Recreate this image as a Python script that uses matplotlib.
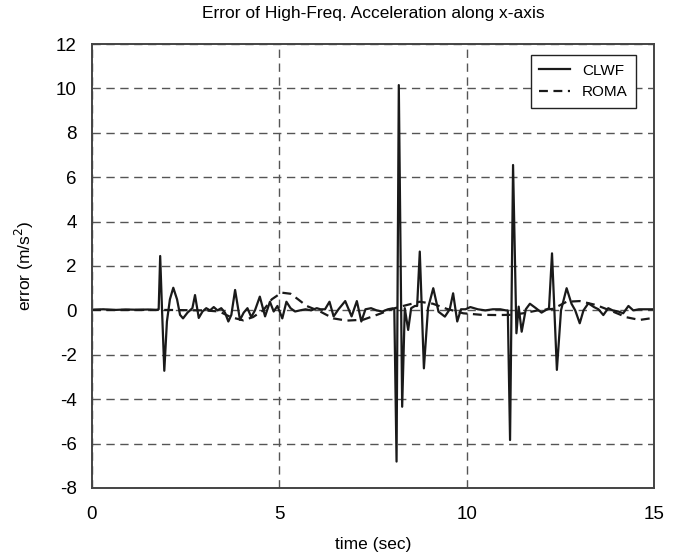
import matplotlib
matplotlib.use("Agg")
from matplotlib import pyplot as plt

# values
clwf_t = [0.0, 0.3, 0.6, 0.9, 1.2, 1.5, 1.72, 1.78, 1.82, 1.87, 1.93, 2.0, 2.08, 2.17,
          2.27, 2.35, 2.43, 2.55, 2.68, 2.75, 2.85, 2.95, 3.05, 3.15, 3.25, 3.35, 3.45,
          3.55, 3.64, 3.72, 3.82, 3.95, 4.05, 4.15, 4.25, 4.35, 4.48, 4.62, 4.75, 4.85,
          4.95, 5.08, 5.19, 5.3, 5.42, 5.55, 5.7, 5.85, 6.0, 6.1, 6.22, 6.34, 6.45, 6.58,
          6.76, 6.93, 7.07, 7.19, 7.3, 7.45, 7.6, 7.75, 7.9, 8.02, 8.07, 8.13, 8.19, 8.28,
          8.35, 8.44, 8.52, 8.62, 8.68, 8.75, 8.86, 8.97, 9.11, 9.25, 9.42, 9.55, 9.64,
          9.75, 9.85, 9.97, 10.1, 10.3, 10.5, 10.7, 10.9, 11.05, 11.1, 11.16, 11.24,
          11.33, 11.39, 11.47, 11.58, 11.69, 11.85, 12.0, 12.15, 12.2, 12.28, 12.41,
          12.52, 12.67, 12.8, 12.9, 13.02, 13.12, 13.25, 13.4, 13.52, 13.65, 13.78, 13.9,
          14.05, 14.18, 14.32, 14.45, 14.6, 14.8, 15.0]
clwf_err = [0.03, 0.05, 0.02, 0.04, 0.03, 0.04, 0.02, 0.05, 2.45, 0.0, -2.72, -0.5, 0.5,
            1.02, 0.5, -0.2, -0.36, -0.1, 0.1, 0.69, -0.34, -0.05, 0.1, 0.0, 0.15, 0.0,
            0.1, -0.1, -0.5, -0.2, 0.92, -0.43, -0.1, 0.1, -0.3, 0.0, 0.62, -0.27, 0.39,
            -0.05, 0.2, -0.36, 0.39, 0.1, -0.05, 0.0, 0.05, 0.0, 0.1, 0.05, 0.05, 0.39,
            -0.27, 0.05, 0.42, -0.27, 0.42, -0.5, 0.05, 0.1, 0.0, -0.05, 0.05, 0.09, 0.05,
            -6.81, 10.15, -4.34, 0.1, -0.88, 0.1, 0.2, 0.2, 2.65, -2.61, 0.1, 1.0, -0.06,
            -0.28, 0.05, 0.77, -0.5, 0.05, 0.05, 0.15, 0.05, 0.0, 0.05, 0.05, 0.0, 0.0,
            -5.84, 6.55, -1.03, 0.17, -0.96, 0.05, 0.3, 0.1, -0.1, 0.05, 0.1, 2.57, -2.68,
            0.0, 1.0, 0.3, 0.0, -0.58, 0.0, 0.32, 0.15, 0.05, -0.21, 0.1, 0.0, -0.05,
            -0.13, 0.2, 0.0, 0.05, 0.05, 0.05]

roma_t = [0.0, 1.0, 2.0, 3.0, 3.4, 3.7, 4.04, 4.3, 4.57, 4.8, 5.06, 5.3, 5.5, 5.73, 6.09,
          6.44, 6.8, 7.24, 7.69, 8.04, 8.4, 8.75, 9.1, 9.47, 9.91, 10.4, 10.8, 11.2,
          11.51, 11.9, 12.31, 12.67, 13.02, 13.46, 13.9, 14.27, 14.62, 14.9]
roma_err = [0.02, 0.02, 0.02, 0.0, -0.05, -0.3, -0.45, -0.3, 0.0, 0.5, 0.8, 0.75, 0.5,
            0.2, -0.05, -0.36, -0.46, -0.42, -0.15, 0.08, 0.24, 0.39, 0.3, 0.07, -0.13,
            -0.2, -0.21, -0.2, -0.13, 0.0, 0.07, 0.39, 0.42, 0.24, -0.05, -0.31, -0.43,
            -0.36]

x_ticks = [0, 5, 10, 15]
y_ticks = [-8, -6, -4, -2, 0, 2, 4, 6, 8, 10, 12]

plt.rcParams["font.family"] = ["Liberation Sans", "DejaVu Sans"]
plt.rcParams["axes.unicode_minus"] = False

fig = plt.figure(figsize=(6.84, 5.6), dpi=100)
ax = fig.add_axes([0.1345, 0.1286, 0.8215, 0.7928])

ax.plot(clwf_t, clwf_err, color="#1a1a1a", linewidth=1.6, linestyle="-", label="CLWF")
ax.plot(roma_t, roma_err, color="#1a1a1a", linewidth=1.6, linestyle=(0, (4, 2.5)), label="ROMA")

ax.set_xlim(0, 15)
ax.set_ylim(-8, 12)
ax.set_xticks(x_ticks)
ax.set_yticks(y_ticks)
ax.tick_params(length=0, labelsize=13.5)
ax.tick_params(axis="x", pad=13)
ax.tick_params(axis="y", pad=11)
ax.grid(True, color="#555555", linestyle=(0, (6, 4)), linewidth=1.0)

for sp in ax.spines.values():
    sp.set_color("#444444")
    sp.set_linewidth(1.4)

ax.set_title("Error of High-Freq. Acceleration along x-axis", fontsize=12.5, pad=19)
ax.set_xlabel("time (sec)", fontsize=12.5, labelpad=10)
ax.set_ylabel("error (m/s$^2$)", fontsize=12.5, labelpad=14)

leg = ax.legend(loc="upper right", bbox_to_anchor=(0.968, 0.975), fontsize=11,
                fancybox=False, framealpha=1, edgecolor="#222222", handlelength=2.0,
                borderaxespad=0, borderpad=0.55, labelspacing=0.5)
leg.get_frame().set_linewidth(1.0)

plt.savefig("out.png", dpi=100)
plt.close()
